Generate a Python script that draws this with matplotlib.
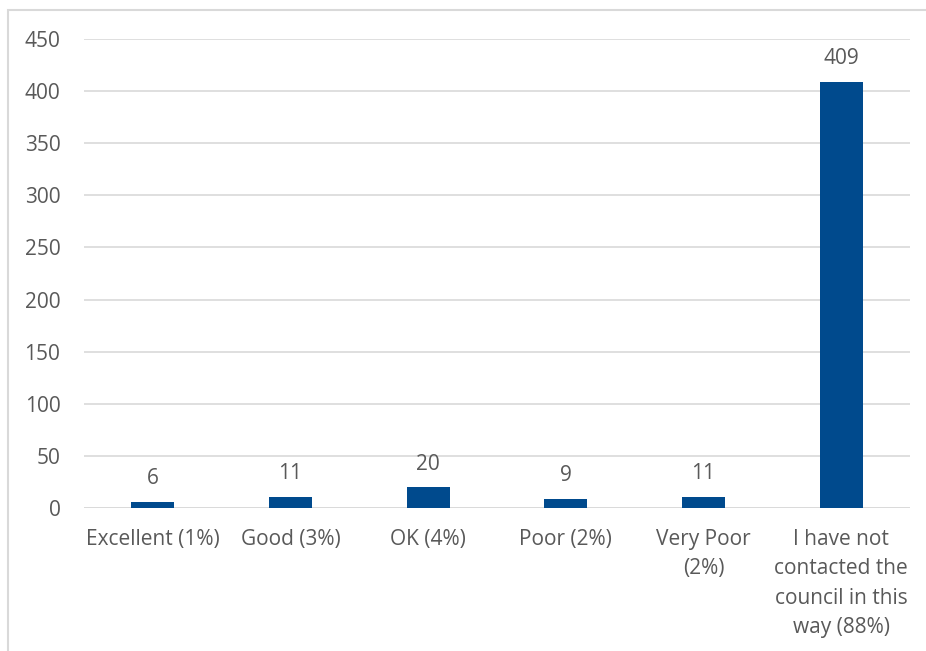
import matplotlib.pyplot as plt
from matplotlib.patches import Rectangle

categories = ["Excellent (1%)", "Good (3%)", "OK (4%)", "Poor (2%)",
              "Very Poor\n(2%)", "I have not\ncontacted the\ncouncil in this\nway (88%)"]
counts = [6, 11, 20, 9, 11, 409]

plt.rcParams["font.family"] = ["Open Sans", "DejaVu Sans"]
txt = "#595959"
bar_col = "#004A8D"
fs = 15

fig = plt.figure(figsize=(9.26, 6.51), dpi=100)
ax = fig.add_axes([0.0907, 0.2197, 0.892, 0.7203])

x = range(len(categories))
bars = ax.bar(x, counts, width=0.313, color=bar_col, zorder=3)
for b, v in zip(bars, counts):
    ax.text(b.get_x() + b.get_width() / 2, v + 12, str(v), ha="center", va="bottom",
            fontsize=fs, color=txt)

ax.set_xlim(-0.5, len(categories) - 0.5)
ax.set_ylim(0, 450)
ax.set_yticks(range(0, 451, 50))
ax.set_xticks(list(x))
ax.set_xticklabels(categories, fontsize=fs, color=txt, linespacing=1.53)
ax.tick_params(axis="y", labelsize=fs, labelcolor=txt, length=0, pad=17)
ax.tick_params(axis="x", length=0, pad=15)
ax.grid(axis="y", color="#D9D9D9", linewidth=1.2, zorder=0)
for s in ax.spines.values():
    s.set_visible(False)
ax.axhline(0, color="#D9D9D9", linewidth=1.2, zorder=2)

# chart border
fig.patches.append(Rectangle((8 / 926, -0.1), 1.1, 1.1 - 10 / 651 + 0.0,
                             transform=fig.transFigure, fill=False,
                             edgecolor="#D9D9D9", linewidth=1.5))

fig.savefig("out.png", dpi=100)
